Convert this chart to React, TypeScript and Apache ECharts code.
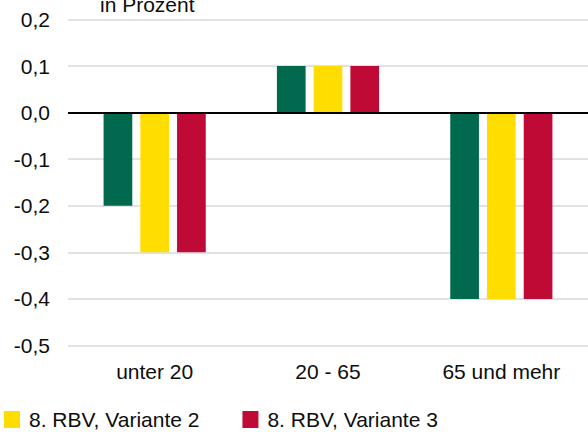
import React, { useEffect, useRef } from "react";
import * as echarts from "echarts";

const categories = ["unter 20", "20 - 65", "65 und mehr"];
const seriesNames = ["8. RBV, Variante 1", "8. RBV, Variante 2", "8. RBV, Variante 3"];
const variante1 = [-0.2, 0.1, -0.4];
const variante2 = [-0.3, 0.1, -0.4];
const variante3 = [-0.3, 0.1, -0.4];
const yTicks = { min: -0.5, max: 0.2, interval: 0.1 };
const titleText = "in Prozent";

const colors = ["#00694E", "#FFDD00", "#BE0A35"];
const font = "'Liberation Sans', Arial, sans-serif";

export default function App() {
  const ref = useRef<HTMLDivElement>(null);
  useEffect(() => {
    if (!ref.current) return;
    const chart = echarts.init(ref.current, undefined, { renderer: "svg" });
    const values = [variante1, variante2, variante3];
    chart.setOption({
      animation: false,
      textStyle: { fontFamily: font },
      graphic: [
        {
          type: "text",
          left: 100,
          top: -6,
          style: { text: titleText, fontSize: 21, fontFamily: font, fill: "#0d0d0d" },
        },
      ],
      legend: {
        data: [seriesNames[1], seriesNames[2]],
        left: -1,
        top: 404,
        itemWidth: 16,
        itemHeight: 17,
        itemGap: 43,
        icon: "rect",
        textStyle: { fontSize: 21, color: "#0d0d0d", fontFamily: font, padding: [0, 0, 0, 4] },
      },
      grid: { left: 68, top: 19.5, width: 523, height: 326, containLabel: false },
      xAxis: {
        type: "category",
        data: categories,
        axisLine: { show: false, onZero: false },
        axisTick: { show: false },
        axisLabel: { fontSize: 21, color: "#0d0d0d", margin: 15, fontFamily: font },
      },
      yAxis: {
        type: "value",
        min: yTicks.min,
        max: yTicks.max,
        interval: yTicks.interval,
        axisLine: { show: false },
        axisTick: { show: false },
        axisLabel: {
          fontSize: 21,
          color: "#0d0d0d",
          margin: 18,
          fontFamily: font,
          formatter: (v: number) => v.toFixed(1).replace(".", ","),
        },
        splitLine: { lineStyle: { color: "#d9d9d9", width: 1.5 } },
      },
      series: values.map((d, i) => ({
        name: seriesNames[i],
        type: "bar",
        data: d,
        barWidth: 28.7,
        barGap: "28%",
        itemStyle: { color: colors[i] },
        ...(i === 0
          ? {
              markLine: {
                silent: true,
                symbol: "none",
                label: { show: false },
                lineStyle: { color: "#000", width: 2, type: "solid" },
                data: [{ yAxis: 0 }],
              },
            }
          : {}),
      })),
    });
    return () => chart.dispose();
  }, []);
  return (
    <div
      ref={ref}
      style={{ position: "absolute", left: 0, top: 0, width: 588, height: 432, background: "#fff" }}
    />
  );
}
